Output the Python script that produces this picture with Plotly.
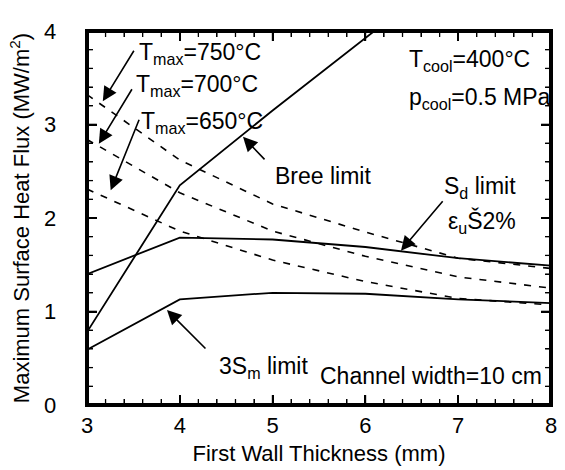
import plotly.graph_objects as go

# Data
thickness = [3, 4, 5, 6, 7, 8]
bree_x = [3, 4, 5, 6, 7]
bree = [0.78, 2.35, 3.15, 3.93, 4.70]
sd_limit = [1.40, 1.79, 1.77, 1.69, 1.57, 1.49]
sm3_limit = [0.59, 1.13, 1.20, 1.19, 1.13, 1.09]
tmax_750 = [3.32, 2.62, 2.15, 1.85, 1.57, 1.46]
tmax_700 = [2.84, 2.27, 1.86, 1.59, 1.37, 1.25]
tmax_650 = [2.31, 1.86, 1.55, 1.32, 1.14, 1.07]
x_ticks = [3, 4, 5, 6, 7, 8]
y_ticks = [0, 1, 2, 3, 4]

FONT = "Liberation Sans, Arial, sans-serif"
W, H = 565, 470
L, R, T, B = 87, 557, 31, 409
XR = (3, 8)
YR = (0, 4)
MINOR_STEP = 0.2
MAJ_LEN, MIN_LEN = 10, 6


def px2x(px):
    return XR[0] + (px - L) / (R - L) * (XR[1] - XR[0])


def py2y(py):
    return YR[0] + (B - py) / (B - T) * (YR[1] - YR[0])


ux = (XR[1] - XR[0]) / (R - L)   # data units per pixel (x)
uy = (YR[1] - YR[0]) / (B - T)   # data units per pixel (y)

fig = go.Figure()
solid = dict(color="black", width=1.8)
dashed = dict(color="black", width=1.6, dash="7px,8px")

fig.add_trace(go.Scatter(x=bree_x, y=bree, mode="lines", line=solid))
fig.add_trace(go.Scatter(x=thickness, y=sd_limit, mode="lines", line=solid))
fig.add_trace(go.Scatter(x=thickness, y=sm3_limit, mode="lines", line=solid))
fig.add_trace(go.Scatter(x=thickness, y=tmax_750, mode="lines", line=dashed))
fig.add_trace(go.Scatter(x=thickness, y=tmax_700, mode="lines", line=dashed))
fig.add_trace(go.Scatter(x=thickness, y=tmax_650, mode="lines", line=dashed))

# Frame and inside tick marks (line segments derived from the axis ticks)
fx = [XR[0], XR[1], XR[1], XR[0], XR[0]]
fy = [YR[0], YR[0], YR[1], YR[1], YR[0]]
fig.add_trace(go.Scatter(x=fx, y=fy, mode="lines", line=dict(color="black", width=4),
                         hoverinfo="skip"))


def frange(a, b, s):
    n = int(round((b - a) / s))
    return [round(a + i * s, 6) for i in range(n + 1)]


def tick_segments(major):
    tx, ty = [], []
    for v in frange(XR[0], XR[1], MINOR_STEP):
        is_major = any(abs(v - m) < 1e-6 for m in x_ticks)
        if is_major != major:
            continue
        ln = (MAJ_LEN if major else MIN_LEN) * uy
        tx += [v, v, None, v, v, None]
        ty += [YR[0], YR[0] + ln, None, YR[1], YR[1] - ln, None]
    for v in frange(YR[0], YR[1], MINOR_STEP):
        is_major = any(abs(v - m) < 1e-6 for m in y_ticks)
        if is_major != major:
            continue
        ln = (MAJ_LEN if major else MIN_LEN) * ux
        tx += [XR[0], XR[0] + ln, None, XR[1], XR[1] - ln, None]
        ty += [v, v, None, v, v, None]
    return tx, ty


mx, my = tick_segments(True)
fig.add_trace(go.Scatter(x=mx, y=my, mode="lines", line=dict(color="black", width=1.6),
                         hoverinfo="skip", connectgaps=False))
nx, ny = tick_segments(False)
fig.add_trace(go.Scatter(x=nx, y=ny, mode="lines", line=dict(color="black", width=1.3),
                         hoverinfo="skip", connectgaps=False))

ann = []
labels = [
    ("T<sub>max</sub>=750°C", 140, 42),
    ("T<sub>max</sub>=700°C", 137, 74),
    ("T<sub>max</sub>=650°C", 142, 112),
    ("Bree limit", 277, 167),
    ("S<sub>d</sub> limit", 449, 177),
    ("ε<sub>u</sub>Š2%", 453, 212),
    ("3S<sub>m</sub> limit", 221, 359),
    ("T<sub>cool</sub>=400°C", 413, 49),
    ("p<sub>cool</sub>=0.5 MPa", 413, 88),
    ("Channel width=10 cm", 323, 370),
]
for txt, lx, cy in labels:
    ann.append(dict(text=txt, x=px2x(lx - 2), y=py2y(cy - 5), xref="x", yref="y",
                    xanchor="left", yanchor="top", showarrow=False,
                    font=dict(family=FONT, size=23, color="black")))

arrows = [
    ((135, 50), (103, 102)),
    ((133, 89), (99, 145)),
    ((140, 120), (111, 192)),
    ((268, 162), (245, 138)),
    ((448, 202), (405, 253)),
    ((208, 353), (168, 313)),
]
for (tx_, ty_), (hx, hy) in arrows:
    ann.append(dict(text="", x=px2x(hx), y=py2y(hy), xref="x", yref="y",
                    ax=tx_ - hx, ay=ty_ - hy, axref="pixel", ayref="pixel",
                    showarrow=True, arrowhead=2, arrowsize=1.8, arrowwidth=1.6,
                    arrowcolor="black", standoff=0, startstandoff=0))

axis_common = dict(
    showgrid=False, zeroline=False, showline=True, linecolor="black", linewidth=2,
    mirror="ticks", ticks="inside", ticklen=MAJ_LEN, tickwidth=1.5, tickcolor="black",
    tickfont=dict(family=FONT, size=22, color="black"),
)

fig.update_layout(
    width=W, height=H,
    margin=dict(l=L, r=W - R, t=T, b=H - B, pad=0),
    paper_bgcolor="white", plot_bgcolor="white",
    showlegend=False,
    annotations=ann,
    xaxis=dict(range=list(XR), tick0=x_ticks[0], dtick=x_ticks[1] - x_ticks[0],
               minor=dict(dtick=MINOR_STEP, ticks="inside", ticklen=MIN_LEN, tickwidth=1.2,
                          tickcolor="black"),
               title=dict(text="First Wall Thickness (mm)", standoff=8,
                          font=dict(family=FONT, size=22, color="black")),
               **axis_common),
    yaxis=dict(range=list(YR), tick0=y_ticks[0], dtick=y_ticks[1] - y_ticks[0],
               minor=dict(dtick=MINOR_STEP, ticks="inside", ticklen=MIN_LEN, tickwidth=1.2,
                          tickcolor="black"),
               title=dict(text="Maximum Surface Heat Flux (MW/m<sup>2</sup>)", standoff=8,
                          font=dict(family=FONT, size=22, color="black")),
               ticksuffix="\u2007\u2007",
               **axis_common),
)

fig.write_html("out.html", config={"displayModeBar": False},
               post_script="document.body.style.margin='0';document.body.style.padding='0';")
